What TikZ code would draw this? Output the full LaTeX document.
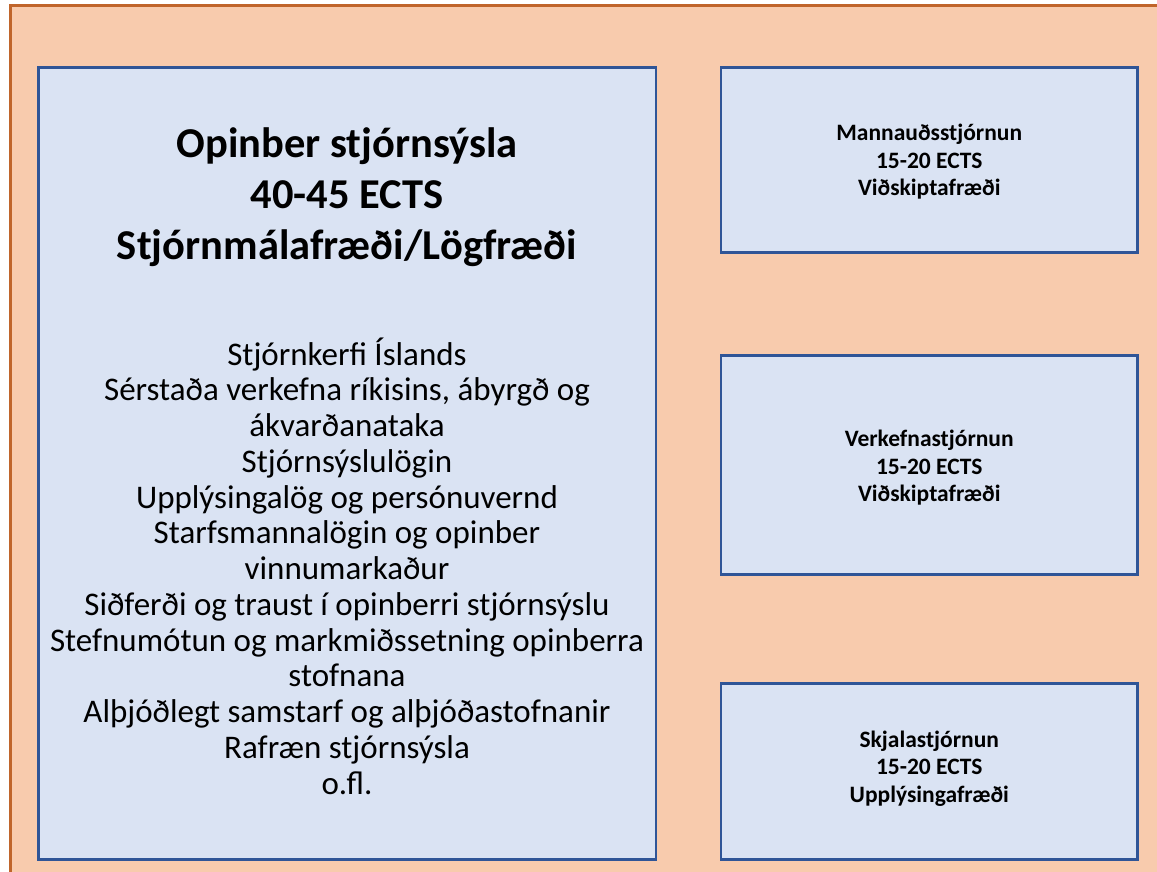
\documentclass[tikz,border=0pt]{standalone}
\usepackage{fontspec}
\setmainfont{Carlito}
\definecolor{peach}{HTML}{F8CBAD}
\definecolor{frameorange}{HTML}{C0652B}
\definecolor{boxfill}{HTML}{DAE3F3}
\definecolor{boxline}{HTML}{2F5597}
\begin{document}
\begin{tikzpicture}[x=1pt,y=-1pt,
  panel/.style={draw=boxline, line width=2.6pt, fill=boxfill, rectangle, inner sep=0pt},
  sidetext/.style={align=center, inner sep=0pt, font=\bfseries\fontsize{23.5}{27.5}\selectfont},
  titletext/.style={align=center, inner sep=0pt, font=\bfseries\fontsize{42.5}{51}\selectfont},
  bodytext/.style={align=center, inner sep=0pt, font=\fontsize{33}{35.75}\selectfont}]
\useasboundingbox (0,0) rectangle (1157,871);
\fill[white] (0,0) rectangle (1157,871);
\fill[peach, draw=frameorange, line width=2.2pt] (10.5,5.5) rectangle (1175,890);
% left panel
\node[panel, minimum width=617.5pt, minimum height=792pt] (left) at (347.25,463.5) {};
\node[titletext] (title) at (347,197.5) {Opinber stjórnsýsla\\40-45 ECTS\\Stjórnmálafræði/Lögfræði};
\node[bodytext] (body) at (347,566) {Stjórnkerfi Íslands\\Sérstaða verkefna ríkisins, ábyrgð og\\ákvarðanataka\\Stjórnsýslulögin\\Upplýsingalög og persónuvernd\\Starfsmannalögin og opinber\\vinnumarkaður\\Siðferði og traust í opinberri stjórnsýslu\\Stefnumótun og markmiðssetning opinberra\\stofnana\\Alþjóðlegt samstarf og alþjóðastofnanir\\Rafræn stjórnsýsla\\o.fl.};
% right panels
\node[panel, minimum width=416.5pt, minimum height=185pt] (hr) at (929.25,160) {};
\node[sidetext] (hrtext) at ([yshift=-2pt]hr.center) {Mannauðsstjórnun\\15-20 ECTS\\Viðskiptafræði};
\node[panel, minimum width=416.5pt, minimum height=219pt] (pm) at (929.25,465) {};
\node[sidetext] (pmtext) at ([yshift=-3pt]pm.center) {Verkefnastjórnun\\15-20 ECTS\\Viðskiptafræði};
\node[panel, minimum width=416.5pt, minimum height=176pt] (rm) at (929.25,771.5) {};
\node[sidetext] (rmtext) at ([yshift=3pt]rm.center) {Skjalastjórnun\\15-20 ECTS\\Upplýsingafræði};
\end{tikzpicture}
\end{document}
